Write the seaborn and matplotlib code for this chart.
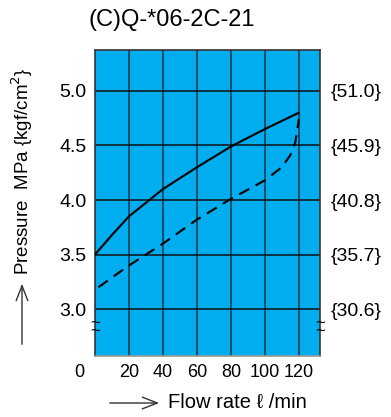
import numpy as np
import pandas as pd
import matplotlib
matplotlib.use("Agg")
import matplotlib.pyplot as plt
import matplotlib.transforms as mtransforms
import seaborn as sns

# values
flow_solid = [0, 10, 20, 32, 40, 60, 80, 100, 120]
pres_solid = [3.50, 3.68, 3.85, 4.00, 4.10, 4.30, 4.49, 4.65, 4.80]
flow_dash = [2, 20, 40, 60, 80, 100, 110, 115, 118, 120, 120]
pres_dash = [3.20, 3.40, 3.60, 3.82, 4.01, 4.18, 4.30, 4.41, 4.53, 4.68, 4.80]

x_ticks = [0, 20, 40, 60, 80, 100, 120]
x_labels = ["0", "20", "40", "60", "80", "100", "120"]
y_ticks = [3.0, 3.5, 4.0, 4.5, 5.0]
y_labels = ["3.0", "3.5", "4.0", "4.5", "5.0"]
kgf_labels = ["{30.6}", "{35.7}", "{40.8}", "{45.9}", "{51.0}"]

title = "(C)Q-*06-2C-21"

sns.set_theme(style="white")
plt.rcParams['font.family'] = ['Liberation Sans', 'DejaVu Sans']
plt.rcParams['text.color'] = 'black'
plt.rcParams['xtick.color'] = 'black'
plt.rcParams['ytick.color'] = 'black'

BLUE = "#00adee"
GRID = "#0b3a52"

fig = plt.figure(figsize=(3.91, 4.17), dpi=100)
ax = fig.add_axes([0.243, 0.1463, 0.575, 0.734])
ax.set_facecolor(BLUE)

solid = pd.DataFrame({"flow": flow_solid, "pressure": pres_solid})
dash = pd.DataFrame({"flow": flow_dash, "pressure": pres_dash})
sns.lineplot(data=solid, x="flow", y="pressure", ax=ax, color="black", lw=1.5,
             sort=False, zorder=3)
sns.lineplot(data=dash, x="flow", y="pressure", ax=ax, color="black", lw=1.5,
             sort=False, zorder=3, dashes=False)
ax.lines[-1].set_dashes([5.5, 3.5])

ax.set_xlim(0, 132.4)
ax.set_ylim(2.57, 5.376)
ax.set_xticks(x_ticks)
ax.set_xticklabels(x_labels, fontsize=13)
ax.set_yticks(y_ticks)
ax.set_yticklabels(y_labels, fontsize=14)
ax.tick_params(axis="both", length=0)
ax.tick_params(axis="x", pad=6)
ax.tick_params(axis="y", pad=6)
ax.set_xlabel("")
ax.set_ylabel("")

# the "0" sits left of the plot edge
off = mtransforms.ScaledTranslation(-16 / 100, 0, fig.dpi_scale_trans)
lab0 = ax.get_xticklabels()[0]
lab0.set_transform(lab0.get_transform() + off)

for t in x_ticks[1:]:
    ax.axvline(t, color=GRID, lw=1.2, zorder=1)
for t in y_ticks:
    ax.axhline(t, color="#111111", lw=1.1, zorder=1)

for side in ["top", "right", "left"]:
    ax.spines[side].set_color("#333333")
    ax.spines[side].set_linewidth(1.2)
ax.spines["bottom"].set_color("#999999")
ax.spines["bottom"].set_linewidth(1.2)

# right axis with kgf/cm2 values
ax2 = ax.twinx()
ax2.set_ylim(ax.get_ylim())
ax2.set_yticks(y_ticks)
ax2.set_yticklabels(kgf_labels, fontsize=14)
ax2.tick_params(axis="y", length=0, pad=8)
for side in ax2.spines:
    ax2.spines[side].set_visible(False)

# break marks on both sides (two stacked tildes)
for xb in [0, 132.4]:
    ax.text(xb, 2.826, "~\n~", ha="center", va="center", fontsize=12,
            linespacing=0.45, color="black", clip_on=False, zorder=5)

fig.text(89 / 391, 1 - 20 / 417, title, ha="left", va="center", fontsize=17)

# y label with arrow
fig.text(22 / 391, 1 - 171 / 417, "Pressure  MPa {kgf/cm$^2$}", rotation=90,
         ha="center", va="center", fontsize=13.5)
fig.patches.append(matplotlib.patches.FancyArrowPatch(
    (22 / 391, 1 - 347 / 417), (22 / 391, 1 - 281 / 417),
    transform=fig.transFigure, arrowstyle="->,head_length=0.9,head_width=0.35",
    color="#333333", lw=1.0, mutation_scale=12))

# x label with arrow
fig.patches.append(matplotlib.patches.FancyArrowPatch(
    (107 / 391, 1 - 403 / 417), (162 / 391, 1 - 403 / 417),
    transform=fig.transFigure, arrowstyle="->,head_length=0.9,head_width=0.35",
    color="#333333", lw=1.0, mutation_scale=12))
fig.text(168 / 391, 1 - 403 / 417, "Flow rate ℓ /min", ha="left", va="center",
         fontsize=14.5)

fig.savefig("out.png", dpi=100)
